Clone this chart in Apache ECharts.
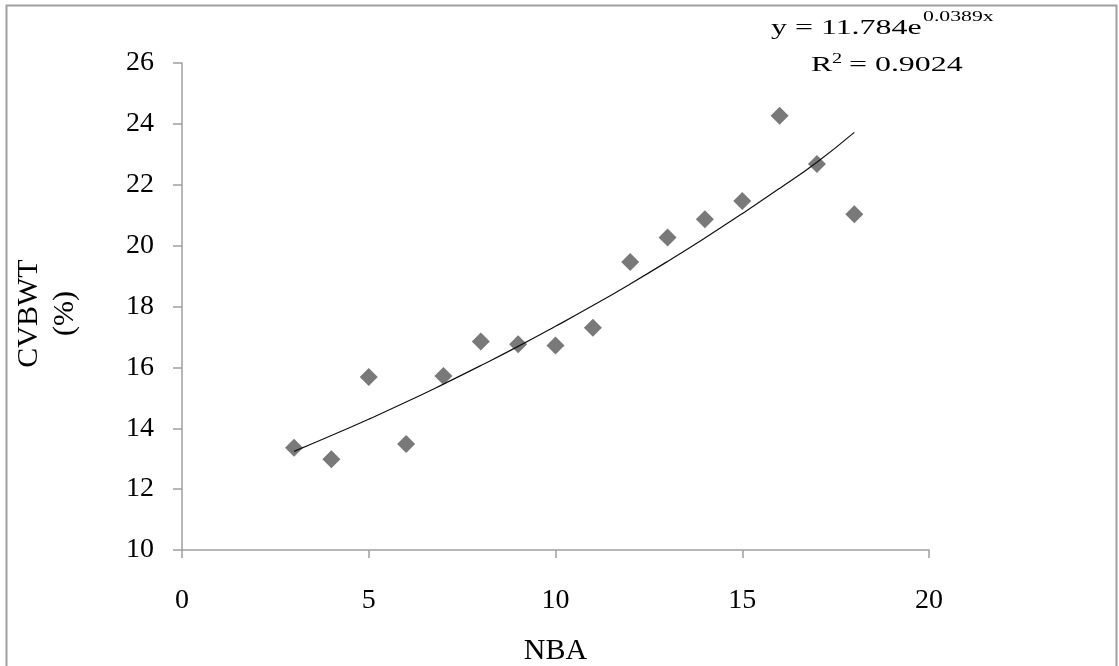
<!DOCTYPE html>
<html>
<head>
<meta charset="utf-8">
<script src="https://cdn.jsdelivr.net/npm/echarts@6/dist/echarts.min.js"></script>
<style>
html,body{margin:0;padding:0;background:#fff;}
#chart{width:1119px;height:666px;}
</style>
</head>
<body>
<div id="chart"></div>
<script>
// NBA (x) values
var nba = [3, 4, 5, 6, 7, 8, 9, 10, 11, 12, 13, 14, 15, 16, 17, 18];
// CVBWT (%) observed values
var cvbwt = [13.36, 12.98, 15.68, 13.48, 15.72, 16.85, 16.76, 16.72, 17.30, 19.46, 20.27, 20.87, 21.47, 24.27, 22.68, 21.03];
// exponential trendline values
var trend = [13.24, 13.76, 14.30, 14.86, 15.45, 16.06, 16.69, 17.35, 18.03, 18.74, 19.48, 20.25, 21.05, 21.88, 22.74, 23.72];
var xTicks = [0, 5, 10, 15, 20];
var yTicks = [10, 12, 14, 16, 18, 20, 22, 24, 26];

var pts = nba.map(function (x, i) { return [x, cvbwt[i]]; });
var trendPts = nba.map(function (x, i) { return [x, trend[i]]; });

var chart = echarts.init(document.getElementById('chart'), null, {renderer: 'canvas'});
var serif = '"Liberation Serif", "DejaVu Serif", serif';
var axisGray = '#a0a0a0';
var sx = 1.45;
function txt(str, x, y, size) {
  return {
    type: 'text', x: x, y: y, scaleX: sx, silent: true,
    style: {text: str, fontFamily: serif, fontSize: size, fill: '#000', verticalAlign: 'middle', align: 'left'}
  };
}
chart.setOption({
  animation: false,
  backgroundColor: '#fff',
  graphic: [{
    type: 'rect',
    shape: {x: 6.5, y: 5.5, width: 1110, height: 700},
    style: {fill: 'none', stroke: '#a0a0a0', lineWidth: 2},
    silent: true
  },
    txt('y = 11.784e', 771, 28, 22),
    txt('0.0389x', 923, 17, 15),
    txt('R', 811, 65, 22),
    txt('2', 832, 59, 14),
    txt(' = 0.9024', 841, 65, 22)
  ],
  grid: {left: 182, right: 190, top: 63, bottom: 116, containLabel: false, outerBoundsMode: 'none'},
  xAxis: {
    type: 'value', min: 0, max: 20, interval: 5,
    name: 'NBA', nameLocation: 'middle', nameGap: 86,
    nameTextStyle: {fontFamily: serif, fontSize: 30, color: '#000'},
    axisLine: {show: true, lineStyle: {color: axisGray, width: 1.5}},
    axisTick: {show: true, length: 8, lineStyle: {color: axisGray, width: 1.5}},
    axisLabel: {fontFamily: serif, fontSize: 28, color: '#000', margin: 37,
      formatter: function (v) { return xTicks.indexOf(v) >= 0 ? String(v) : ''; }},
    splitLine: {show: false}
  },
  yAxis: {
    type: 'value', min: 10, max: 26, interval: 2,
    name: 'CVBWT\n(%)', nameLocation: 'middle', nameGap: 99,
    nameTextStyle: {fontFamily: serif, fontSize: 30, color: '#000', lineHeight: 36, align: 'center', padding: [0, 14, 0, 0]},
    axisLine: {show: true, lineStyle: {color: axisGray, width: 1.5}},
    axisTick: {show: true, length: 9, lineStyle: {color: axisGray, width: 1.5}},
    axisLabel: {fontFamily: serif, fontSize: 28, color: '#000', margin: 28,
      formatter: function (v) { return yTicks.indexOf(v) >= 0 ? String(v) : ''; }},
    splitLine: {show: false}
  },
  series: [{
    type: 'line',
    data: trendPts,
    smooth: true,
    showSymbol: false,
    lineStyle: {color: '#111', width: 1.2},
    z: 3
  }, {
    type: 'scatter',
    data: pts,
    symbol: 'diamond',
    symbolSize: [18, 18],
    itemStyle: {color: '#585858'},
    z: 2
  }]
});
</script>
</body>
</html>
